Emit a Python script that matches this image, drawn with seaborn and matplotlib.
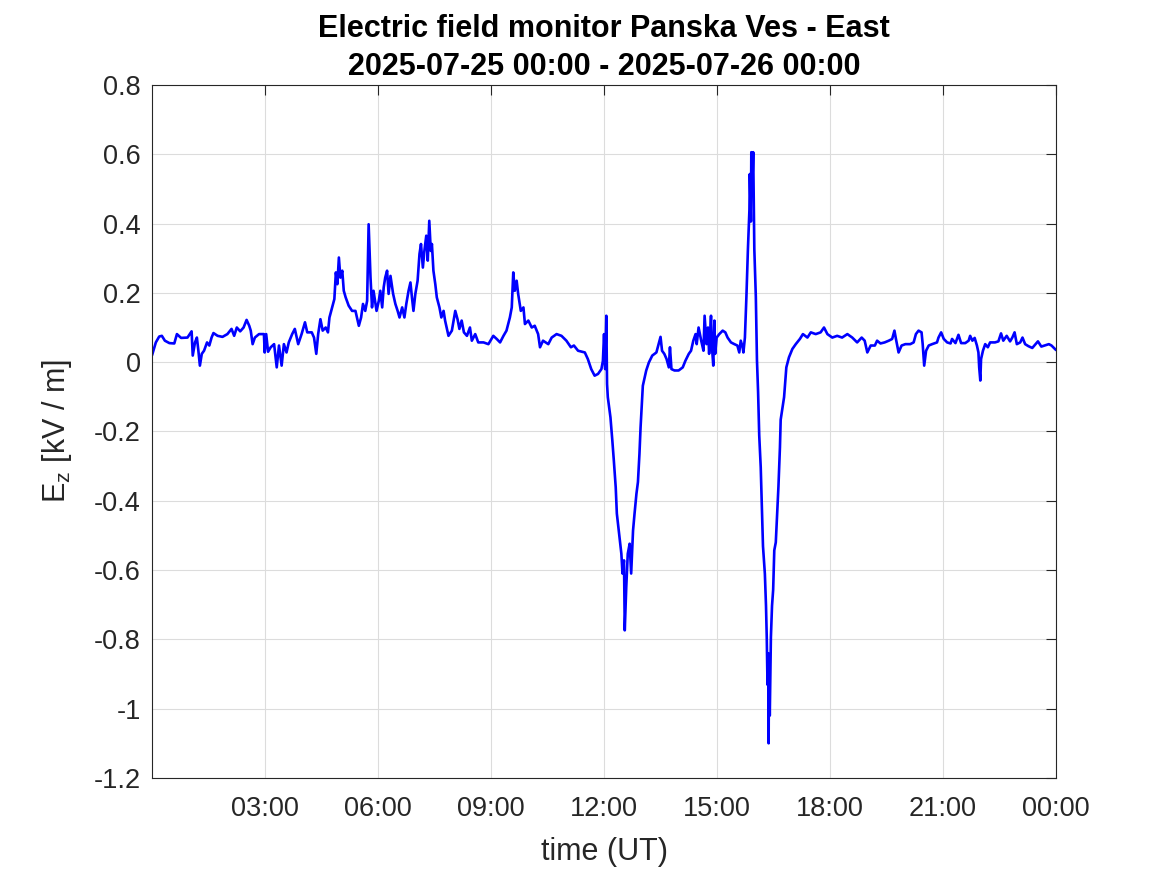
import numpy as np
import pandas as pd
import matplotlib
matplotlib.use("Agg")
import matplotlib.pyplot as plt
import seaborn as sns

# time in hours since 2025-07-25 00:00 UT
hours = [
    0.00, 0.10, 0.19, 0.26, 0.34, 0.46, 0.59, 0.66, 0.77, 0.94, 1.05, 1.08, 1.14, 1.19, 1.23, 1.27, 1.32, 1.38,
    1.46, 1.52, 1.58, 1.63, 1.74, 1.87, 2.00, 2.11, 2.18, 2.25, 2.34, 2.43, 2.51, 2.58, 2.62, 2.67, 2.73, 2.84,
    2.97, 2.99, 3.03, 3.08, 3.15, 3.24, 3.31, 3.37, 3.44, 3.50, 3.57, 3.63, 3.72, 3.79, 3.88, 3.97, 4.06, 4.12,
    4.24, 4.30, 4.36, 4.41, 4.47, 4.53, 4.61, 4.67, 4.71, 4.78, 4.84, 4.88, 4.92, 4.96, 5.00, 5.05, 5.09, 5.14,
    5.22, 5.31, 5.40, 5.44, 5.49, 5.55, 5.60, 5.66, 5.71, 5.75, 5.80, 5.84, 5.88, 5.96, 6.02, 6.06, 6.11, 6.15,
    6.19, 6.24, 6.28, 6.33, 6.40, 6.46, 6.52, 6.57, 6.64, 6.70, 6.75, 6.81, 6.86, 6.90, 6.94, 6.99, 7.05, 7.10,
    7.14, 7.19, 7.23, 7.28, 7.32, 7.36, 7.40, 7.43, 7.47, 7.52, 7.56, 7.63, 7.68, 7.74, 7.78, 7.87, 7.96, 8.05,
    8.11, 8.16, 8.22, 8.28, 8.36, 8.44, 8.49, 8.58, 8.66, 8.80, 8.93, 9.06, 9.15, 9.24, 9.33, 9.41, 9.50, 9.55,
    9.59, 9.63, 9.68, 9.72, 9.79, 9.86, 9.90, 9.99, 10.08, 10.16, 10.25, 10.30, 10.38, 10.52, 10.61, 10.74,
    10.87, 11.00, 11.12, 11.20, 11.31, 11.49, 11.57, 11.66, 11.75, 11.84, 11.93, 11.97, 12.00, 12.03, 12.06,
    12.08, 12.10, 12.17, 12.22, 12.26, 12.31, 12.34, 12.40, 12.46, 12.49, 12.53, 12.55, 12.59, 12.63, 12.68,
    12.72, 12.77, 12.81, 12.86, 12.90, 12.94, 12.97, 13.01, 13.03, 13.08, 13.12, 13.19, 13.28, 13.39, 13.45,
    13.50, 13.54, 13.60, 13.66, 13.72, 13.75, 13.79, 13.87, 13.98, 14.09, 14.16, 14.25, 14.31, 14.37, 14.43,
    14.46, 14.51, 14.58, 14.64, 14.67, 14.72, 14.76, 14.79, 14.84, 14.86, 14.90, 14.93, 14.95, 14.99, 15.06,
    15.15, 15.22, 15.28, 15.37, 15.46, 15.54, 15.59, 15.63, 15.68, 15.70, 15.74, 15.78, 15.82, 15.86, 15.87,
    15.90, 15.91, 15.94, 15.96, 15.99, 16.03, 16.06, 16.09, 16.12, 16.16, 16.19, 16.22, 16.27, 16.30, 16.32,
    16.34, 16.36, 16.37, 16.38, 16.40, 16.43, 16.46, 16.49, 16.52, 16.56, 16.60, 16.63, 16.67, 16.69, 16.74,
    16.78, 16.84, 16.91, 17.00, 17.09, 17.20, 17.28, 17.40, 17.49, 17.62, 17.75, 17.84, 17.93, 18.06, 18.19,
    18.32, 18.46, 18.59, 18.72, 18.84, 18.92, 18.99, 19.08, 19.19, 19.25, 19.34, 19.45, 19.56, 19.65, 19.71,
    19.75, 19.82, 19.90, 20.00, 20.13, 20.22, 20.28, 20.35, 20.43, 20.46, 20.50, 20.55, 20.62, 20.71, 20.84,
    20.88, 20.95, 21.02, 21.11, 21.20, 21.24, 21.33, 21.41, 21.48, 21.59, 21.68, 21.72, 21.78, 21.84, 21.90,
    21.94, 21.96, 21.99, 22.01, 22.06, 22.12, 22.19, 22.25, 22.38, 22.47, 22.54, 22.60, 22.69, 22.78, 22.84,
    22.90, 22.96, 23.05, 23.11, 23.18, 23.27, 23.37, 23.44, 23.52, 23.61, 23.70, 23.81, 23.88, 24.00,
]

# vertical electric field Ez [kV/m]
ez = [
    0.020, 0.057, 0.074, 0.076, 0.062, 0.055, 0.054, 0.081, 0.070, 0.071, 0.089, 0.019, 0.057, 0.071, 0.033, -0.010, 0.024, 0.033,
    0.057, 0.048, 0.071, 0.084, 0.076, 0.073, 0.081, 0.096, 0.076, 0.100, 0.089, 0.100, 0.122, 0.105, 0.091, 0.052, 0.071, 0.081,
    0.081, 0.028, 0.081, 0.030, 0.043, 0.052, -0.015, 0.048, -0.010, 0.052, 0.028, 0.057, 0.081, 0.096, 0.052, 0.081, 0.115, 0.086,
    0.086, 0.071, 0.024, 0.081, 0.124, 0.091, 0.100, 0.086, 0.129, 0.158, 0.182, 0.259, 0.225, 0.302, 0.244, 0.264, 0.206, 0.187,
    0.163, 0.148, 0.148, 0.129, 0.105, 0.129, 0.168, 0.148, 0.177, 0.398, 0.244, 0.158, 0.206, 0.148, 0.177, 0.206, 0.158, 0.216,
    0.244, 0.264, 0.197, 0.249, 0.197, 0.168, 0.148, 0.129, 0.158, 0.129, 0.168, 0.206, 0.230, 0.187, 0.148, 0.197, 0.235, 0.312,
    0.341, 0.273, 0.321, 0.365, 0.293, 0.408, 0.321, 0.341, 0.264, 0.225, 0.187, 0.158, 0.129, 0.148, 0.120, 0.076, 0.091, 0.148,
    0.124, 0.096, 0.120, 0.086, 0.076, 0.100, 0.062, 0.081, 0.057, 0.057, 0.052, 0.076, 0.067, 0.057, 0.076, 0.091, 0.129, 0.158,
    0.259, 0.206, 0.235, 0.197, 0.148, 0.158, 0.110, 0.120, 0.100, 0.105, 0.081, 0.043, 0.062, 0.052, 0.071, 0.081,
    0.076, 0.062, 0.043, 0.048, 0.033, 0.028, 0.009, -0.020, -0.039, -0.034, -0.020, 0.004, 0.081, -0.020, 0.134,
    -0.063, -0.101, -0.159, -0.226, -0.284, -0.361, -0.437, -0.495, -0.553, -0.610, -0.572, -0.774, -0.649, -0.553, -0.524,
    -0.610, -0.486, -0.437, -0.380, -0.346, -0.265, -0.188, -0.111, -0.068, -0.044, -0.024, -0.001, 0.019, 0.028, 0.052,
    0.073, 0.033, 0.024, 0.009, -0.015, 0.043, -0.020, -0.024, -0.024, -0.015, 0.004, 0.024, 0.033, 0.062, 0.081,
    0.052, 0.100, 0.062, 0.033, 0.134, 0.052, 0.100, 0.024, 0.134, 0.052, -0.010, 0.120, 0.024, 0.071, 0.081,
    0.091, 0.086, 0.071, 0.057, 0.052, 0.048, 0.028, 0.062, 0.043, 0.028, 0.071, 0.189, 0.326, 0.440, 0.543,
    0.406, 0.606, 0.520, 0.606, 0.326, 0.189, 0.006, -0.086, -0.211, -0.303, -0.417, -0.531, -0.611, -0.703, -0.794,
    -0.931, -0.840, -1.100, -0.851, -1.020, -0.794, -0.703, -0.657, -0.543, -0.520, -0.429, -0.360, -0.246, -0.166, -0.131,
    -0.101, -0.015, 0.014, 0.038, 0.052, 0.067, 0.081, 0.071, 0.086, 0.081, 0.086, 0.100, 0.081, 0.071, 0.076,
    0.071, 0.081, 0.071, 0.057, 0.071, 0.062, 0.028, 0.048, 0.048, 0.062, 0.054, 0.057, 0.062, 0.067, 0.091,
    0.067, 0.028, 0.048, 0.052, 0.052, 0.057, 0.081, 0.091, 0.086, 0.052, -0.010, 0.033, 0.048, 0.052, 0.057,
    0.071, 0.086, 0.067, 0.057, 0.054, 0.067, 0.055, 0.079, 0.055, 0.055, 0.062, 0.076, 0.062, 0.070, 0.048,
    0.028, -0.015, -0.053, 0.009, 0.033, 0.052, 0.043, 0.057, 0.057, 0.060, 0.083, 0.062, 0.076, 0.060, 0.071,
    0.086, 0.052, 0.057, 0.071, 0.052, 0.046, 0.041, 0.050, 0.060, 0.045, 0.048, 0.052, 0.048, 0.035,
]

xtick_pos = [3, 6, 9, 12, 15, 18, 21, 24]
xtick_labels = ["03:00", "06:00", "09:00", "12:00", "15:00", "18:00", "21:00", "00:00"]
ytick_pos = [-1.2, -1.0, -0.8, -0.6, -0.4, -0.2, 0.0, 0.2, 0.4, 0.6, 0.8]
ytick_labels = ["-1.2", "-1", "-0.8", "-0.6", "-0.4", "-0.2", "0", "0.2", "0.4", "0.6", "0.8"]

df = pd.DataFrame({"hours": hours, "ez": ez})

sns.set_style("white")
plt.rcParams["font.family"] = ["Liberation Sans", "DejaVu Sans"]
plt.rcParams["mathtext.fontset"] = "custom"
plt.rcParams["mathtext.rm"] = "Liberation Sans"
plt.rcParams["mathtext.it"] = "Liberation Sans"
plt.rcParams["mathtext.default"] = "regular"

fig = plt.figure(figsize=(11.67, 8.75), dpi=100)
ax = fig.add_axes([0.1303, 0.1109, 0.7746, 0.7920])

sns.lineplot(data=df, x="hours", y="ez", ax=ax, color="#0000FF", linewidth=1.9,
             estimator=None, sort=False)

ax.set_xlim(0, 24)
ax.set_ylim(-1.2, 0.8)
ax.set_xticks(xtick_pos)
ax.set_xticklabels(xtick_labels)
ax.set_yticks(ytick_pos)
ax.set_yticklabels(ytick_labels)

ax.grid(True, color="#dcdcdc", linewidth=0.8)
ax.set_axisbelow(True)
for s in ax.spines.values():
    s.set_color("#262626")
    s.set_linewidth(0.8)
ax.tick_params(direction="in", length=7, width=0.8, colors="#262626",
               labelsize=19.5, top=True, right=True, pad=8)
ax.tick_params(axis="x", pad=13)
for lab in ax.get_xticklabels() + ax.get_yticklabels():
    lab.set_color("#262626")

ax.set_xlabel("time (UT)", fontsize=22, color="#262626", labelpad=11)
ax.set_ylabel("E$_z$ [kV / m]", fontsize=22, color="#262626", labelpad=14)
ax.set_title("Electric field monitor Panska Ves - East\n2025-07-25 00:00 - 2025-07-26 00:00",
             fontsize=22, fontweight="bold", color="black", pad=7, linespacing=1.36)

fig.savefig("out.png", dpi=100, facecolor="white")
